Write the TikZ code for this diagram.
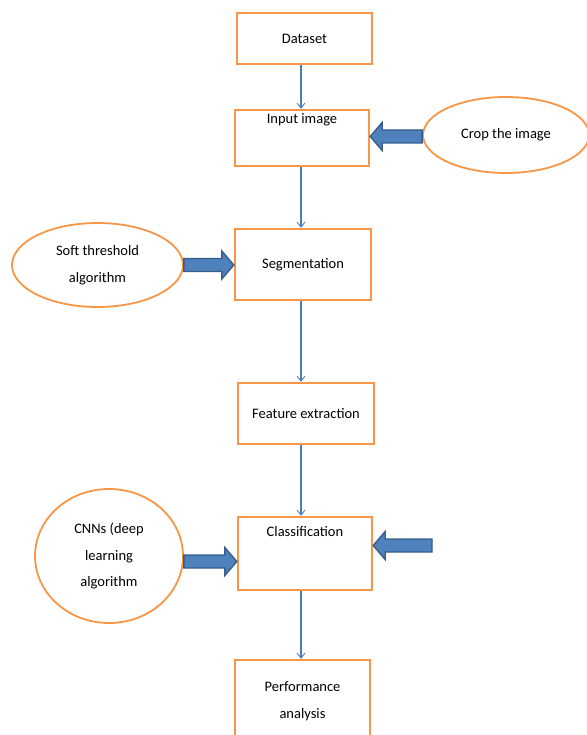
\documentclass[tikz,border=0pt]{standalone}
\usepackage{fontspec}
\setmainfont{Carlito}
\usetikzlibrary{arrows.meta,calc,shapes.geometric}
\definecolor{orng}{HTML}{F79646}
\definecolor{bluel}{HTML}{4A7EBB}
\definecolor{bluef}{HTML}{4F81BD}
\definecolor{blued}{HTML}{385D8A}
\tikzset{
  box/.style={draw=orng, line width=2.4pt, fill=white, rectangle, inner sep=0pt},
  oval/.style={draw=orng, line width=1.8pt, fill=white, ellipse, inner sep=0pt, align=center},
  flow/.style={draw=bluel, line width=1.1pt, -{Straight Barb[length=5pt,width=8pt,line width=0.9pt]}},
  barrow/.style={fill=bluef, draw=blued, line width=1.4pt, line join=miter},
  txt/.style={font=\fontsize{14.5}{26.5}\selectfont, align=center, inner sep=0pt}
}
% #1 tail point, #2 tip point, #3 direction (+1 right, -1 left)
\newcommand\blockarr[3]{%
  \draw[barrow] let \p1=#1, \p2=#2 in
   (\x1,\y1+6.5pt) -- (\x2-#3*12pt,\y1+6.5pt) -- (\x2-#3*12pt,\y1+14pt) -- (\x2,\y1)
   -- (\x2-#3*12pt,\y1-14pt) -- (\x2-#3*12pt,\y1-6.5pt) -- (\x1,\y1-6.5pt) -- cycle;}
\begin{document}
\begin{tikzpicture}[x=1pt,y=-1pt]
\useasboundingbox (0,0) rectangle (586,735);
\coordinate (axis) at (301,0);
% boxes
\node[box, txt, minimum width=135pt, minimum height=51pt] (dataset) at (304.5,38.5) {Dataset};
\node[box, minimum width=134pt, minimum height=56pt,
  label={[name=inputlbl, txt, anchor=north, yshift=-5pt]north:Input image}] (input) at (302,138) {};
\node[box, txt, minimum width=136pt, minimum height=71pt] (seg) at (303,264.5) {Segmentation};
\node[box, txt, minimum width=136pt, minimum height=61pt] (feat) at (306,413.5) {Feature extraction};
\node[box, minimum width=134pt, minimum height=73pt,
  label={[name=classlbl, txt, anchor=north, yshift=-10pt]north:Classification}] (class) at (305,553.5) {};
\node[box, minimum width=135pt, minimum height=90pt] (perf) at (302.5,705) {};
\node[txt] (perflbl) at (302.5,701) {Performance\\analysis};
% ellipses
\node[oval, txt, minimum width=166pt, minimum height=76pt] (crop) at (506,135) {Crop the image};
\node[oval, txt, minimum width=171pt, minimum height=84pt] (soft) at (97.5,265) {Soft threshold\\algorithm};
\node[oval, txt, minimum width=148pt, minimum height=134pt] (cnn) at (109,556) {CNNs (deep\\learning\\algorithm};
% thin arrows
\draw[flow] (dataset.south -| axis) -- (input.north -| axis);
\draw[flow] (input.south -| axis) -- (seg.north -| axis);
\draw[flow] (seg.south -| axis) -- (feat.north -| axis);
\draw[flow] (feat.south -| axis) -- (class.north -| axis);
\draw[flow] (class.south -| axis) -- (perf.north -| axis);
% block arrows
\blockarr{(crop.west |- 0,136.5)}{(input.east |- 0,136.5)}{-1}
\blockarr{(soft.east |- 0,265)}{(seg.west |- 0,265)}{1}
\blockarr{(cnn.east |- 0,561.5)}{(class.west |- 0,561.5)}{1}
\coordinate (rtail) at (432,545.5);
\blockarr{(rtail)}{(class.east |- 0,545.5)}{-1}
\end{tikzpicture}
\end{document}
